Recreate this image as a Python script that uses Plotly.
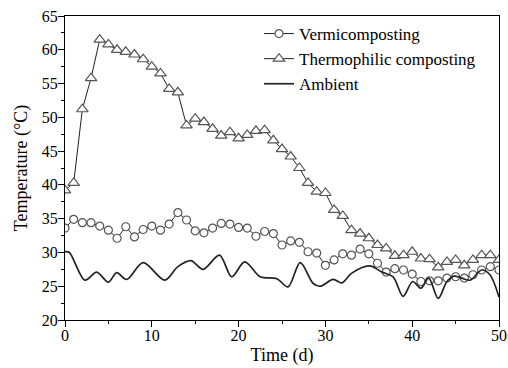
import plotly.graph_objects as go

days = list(range(0, 51))

vermi = [33.6, 34.9, 34.4, 34.4, 33.9, 33.3, 32.1, 33.8, 32.3, 33.4,
         33.9, 33.3, 34.2, 35.9, 34.8, 33.2, 32.9, 33.6, 34.3, 34.2,
         33.7, 33.6, 32.4, 33.1, 32.8, 31.1, 31.7, 31.5, 30.1, 29.9,
         28.1, 28.9, 29.8, 29.6, 30.5, 29.8, 28.4, 27.1, 27.6, 27.4,
         26.8, 25.7, 25.8, 25.8, 26.2, 26.4, 26.2, 26.7, 27.4, 27.9, 27.4]

thermo = [39.2, 40.3, 51.2, 55.8, 61.5, 60.8, 60.0, 59.7, 59.3, 58.6,
          57.5, 56.5, 54.2, 53.7, 48.8, 49.8, 49.3, 48.3, 47.3, 47.8,
          46.9, 47.4, 48.0, 48.1, 46.6, 45.3, 44.2, 42.5, 40.3, 39.0,
          38.8, 36.3, 35.4, 33.3, 32.8, 32.1, 31.1, 30.6, 29.5, 29.6,
          30.1, 29.1, 29.0, 27.8, 28.6, 28.9, 28.1, 28.9, 29.6, 29.6, 28.9]

amb_t = [0, 0.5, 2.3, 3.65, 5.0, 5.95, 7.1, 9.0, 11.5, 13.0, 14.5, 15.9,
         17.8, 19.2, 20.7, 22.5, 24.4, 25.7, 27.1, 28.6, 29.4, 30.9, 31.9,
         33.0, 35.1, 36.5, 37.8, 38.95, 40.05, 41.0, 41.9, 43.0, 44.0,
         44.85, 45.7, 46.7, 48.0, 48.95, 50]
amb_v = [30.1, 30.0, 25.9, 27.1, 25.6, 27.0, 26.0, 28.5, 25.9, 27.9, 28.8, 27.5,
         29.6, 26.4, 28.6, 26.4, 26.1, 24.9, 28.5, 25.4, 25.0, 26.0, 25.5,
         26.9, 28.0, 27.1, 26.4, 23.5, 25.7, 24.7, 26.2, 23.2, 25.7,
         26.5, 26.2, 25.9, 27.4, 26.7, 23.4]

FONT = "Liberation Serif"

fig = go.Figure()
fig.add_trace(go.Scatter(
    x=days, y=vermi, name="Vermicomposting", mode="lines+markers",
    line=dict(color="#222222", width=1),
    marker=dict(symbol="circle", size=8, color="white",
                line=dict(color="#555555", width=1.2)),
))
fig.add_trace(go.Scatter(
    x=days, y=thermo, name="Thermophilic composting", mode="lines+markers",
    line=dict(color="#222222", width=1),
    marker=dict(symbol="triangle-up", size=10, color="white",
                line=dict(color="#555555", width=1.2)),
))
fig.add_trace(go.Scatter(
    x=amb_t, y=amb_v, name="Ambient", mode="lines",
    line=dict(color="#222222", width=1.7, shape="spline", smoothing=0.9),
))

axis_common = dict(
    showline=True, linecolor="black", linewidth=1.3, mirror=True,
    ticks="outside", tickcolor="black", tickwidth=1.2, ticklen=6,
    showgrid=False, zeroline=False, automargin=False,
    tickfont=dict(family=FONT, size=16, color="black"),
)

fig.update_layout(
    width=508, height=368,
    margin=dict(l=65, r=9, t=16, b=48),
    paper_bgcolor="white", plot_bgcolor="white",
    font=dict(family=FONT, color="black"),
    showlegend=True,
    legend=dict(
        x=0.447, y=1.0, xanchor="left", yanchor="top",
        bgcolor="rgba(0,0,0,0)", borderwidth=0,
        font=dict(family=FONT, size=17, color="black"),
        itemwidth=30, tracegroupgap=0,
    ),
    xaxis=dict(
        range=[0, 50], dtick=10, tick0=0, ticklabelstandoff=-5,
        minor=dict(dtick=5, ticks="outside", ticklen=3, tickcolor="black"),
        title=dict(text="Time (d)", font=dict(family=FONT, size=18), standoff=5),
        **axis_common,
    ),
    yaxis=dict(
        range=[20, 65], dtick=5, tick0=20, ticklabelstandoff=-3,
        minor=dict(dtick=2.5, ticks="outside", ticklen=3, tickcolor="black"),
        title=dict(text="Temperature (°C)", font=dict(family=FONT, size=18), standoff=9),
        **axis_common,
    ),
)

fig.write_html(
    "out.html",
    config={"displayModeBar": False},
    post_script="document.body.style.margin='0';document.body.style.padding='0';",
)
